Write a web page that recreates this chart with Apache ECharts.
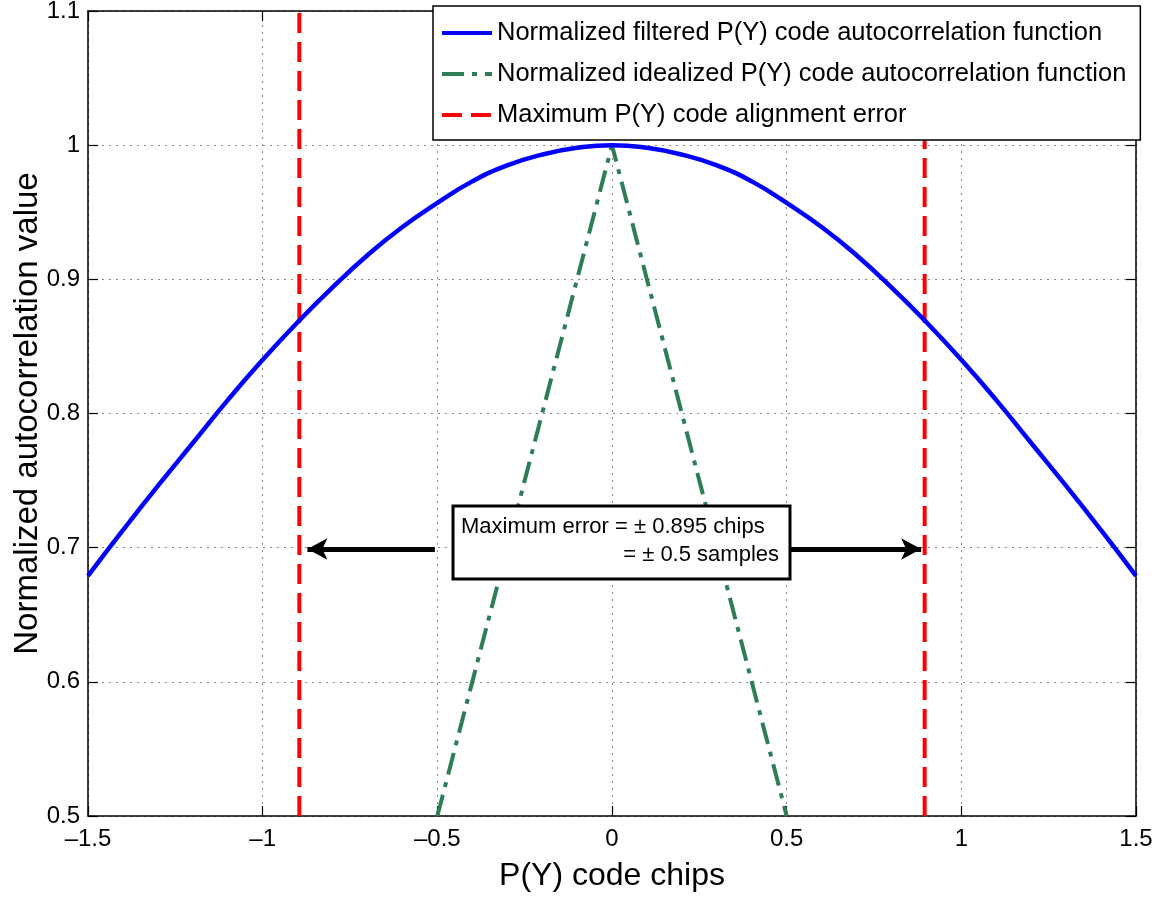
<!DOCTYPE html>
<html>
<head>
<meta charset="utf-8">
<script src="https://cdn.jsdelivr.net/npm/echarts@6/dist/echarts.min.js"></script>
<style>
  html, body { margin: 0; padding: 0; background: #fff; }
  #chart { width: 1171px; height: 913px; }
</style>
</head>
<body>
<div id="chart"></div>
<script>
// chip offsets and filtered autocorrelation
const chipOffsets = [-1.5, -1.4, -1.3, -1.2, -1.1, -1.0, -0.9, -0.8, -0.7, -0.6, -0.5, -0.4, -0.3, -0.2, -0.1, 0,
  0.1, 0.2, 0.3, 0.4, 0.5, 0.6, 0.7, 0.8, 0.9, 1.0, 1.1, 1.2, 1.3, 1.4, 1.5];
const filteredAcf = [0.679, 0.713, 0.746, 0.778, 0.810, 0.840, 0.868, 0.894, 0.918, 0.939, 0.957, 0.973, 0.985, 0.993, 0.998, 1.000,
  0.998, 0.993, 0.985, 0.973, 0.957, 0.939, 0.918, 0.894, 0.868, 0.840, 0.810, 0.778, 0.746, 0.713, 0.679];

// idealized (triangle) autocorrelation
const idealChips = [-0.5, 0, 0.5];
const idealAcf = [0.5, 1.0, 0.5];

// max alignment error lines
const errorChips = [-0.895, 0.895];
const errorSpan = [0.5, 1.1];

// arrows pointing at the error lines (start chip, end chip, level)
const arrowStarts = [-0.507, 0.51];
const arrowEnds = [-0.872, 0.885];
const arrowLevel = 0.699;

const FONT = '"Liberation Sans", Arial, Helvetica, sans-serif';
const names = [
  'Normalized filtered P(Y) code autocorrelation function',
  'Normalized idealized P(Y) code autocorrelation function',
  'Maximum P(Y) code alignment error'
];

var chart = echarts.init(document.getElementById('chart'));

const zip = (xs, ys) => xs.map((x, i) => [x, ys[i]]);

const gridLine = { show: true, lineStyle: { color: '#8a8a8a', type: [2, 5], width: 1 } };
const boxLine = { show: true, onZero: false, lineStyle: { color: '#000', width: 1.5 } };
const tick = { show: true, inside: true, length: 10, lineStyle: { color: '#000', width: 1.2 } };

var series = [
  {
    name: names[0],
    type: 'line',
    data: zip(chipOffsets, filteredAcf),
    smooth: 0.5,
    showSymbol: false,
    symbol: 'none',
    lineStyle: { color: '#0000ff', width: 4.5 },
    itemStyle: { color: '#0000ff' },
    z: 3,
    markLine: {
      silent: true,
      symbol: ['none', 'arrow'],
      symbolSize: [16, 20],
      label: { show: false },
      lineStyle: { color: '#000', width: 5, type: 'solid' },
      data: arrowStarts.map((s, i) => [
        { coord: [s, arrowLevel] },
        { coord: [arrowEnds[i], arrowLevel] }
      ])
    }
  },
  {
    name: names[1],
    type: 'line',
    data: zip(idealChips, idealAcf),
    showSymbol: false,
    symbol: 'none',
    lineStyle: { color: '#2e7d57', width: 4, type: [22, 8, 5, 8] },
    itemStyle: { color: '#2e7d57' },
    z: 2
  }
];

errorChips.forEach(function (c) {
  series.push({
    name: names[2],
    type: 'line',
    data: errorSpan.map(v => [c, v]),
    showSymbol: false,
    symbol: 'none',
    lineStyle: { color: '#ff0000', width: 4, type: [20, 9] },
    itemStyle: { color: '#ff0000' },
    z: 2
  });
});

chart.setOption({
  animation: false,
  backgroundColor: '#fff',
  textStyle: { fontFamily: FONT },
  grid: { left: 88, right: 35, top: 11, bottom: 97, containLabel: false, outerBoundsMode: 'none' },
  legend: {
    data: names,
    orient: 'vertical',
    left: 433,
    top: 6,
    padding: [13, 14, 11, 7],
    itemGap: 13,
    itemWidth: 50,
    itemHeight: 2,
    backgroundColor: '#fff',
    borderColor: '#000',
    borderWidth: 1.5,
    borderRadius: 0,
    itemStyle: { color: 'rgba(0,0,0,0)', borderWidth: 0 },
    lineStyle: { width: 4 },
    textStyle: { fontSize: 25.5, color: '#000', fontFamily: FONT, lineHeight: 28 },
    selectedMode: false,
    z: 10
  },
  xAxis: [
    {
      type: 'value',
      min: -1.5,
      max: 1.5,
      interval: 0.5,
      name: 'P(Y) code chips',
      nameLocation: 'middle',
      nameGap: 44,
      nameMoveOverlap: false,
      nameTextStyle: { fontSize: 32, color: '#000', fontFamily: FONT },
      axisLine: boxLine,
      axisTick: tick,
      axisLabel: {
        fontSize: 24, color: '#000', margin: 11,
        formatter: v => String(v).replace('-', '\u2013')
      },
      splitLine: gridLine
    },
    {
      type: 'value', position: 'top', min: -1.5, max: 1.5, interval: 0.5,
      axisLine: boxLine, axisTick: tick, axisLabel: { show: false }, splitLine: { show: false }
    }
  ],
  yAxis: [
    {
      type: 'value',
      min: 0.5,
      max: 1.1,
      interval: 0.1,
      name: 'Normalized autocorrelation value',
      nameLocation: 'middle',
      nameGap: 44,
      nameMoveOverlap: false,
      nameTextStyle: { fontSize: 33, color: '#000', fontFamily: FONT },
      axisLine: boxLine,
      axisTick: tick,
      axisLabel: { fontSize: 24, color: '#000', margin: 8 },
      splitLine: gridLine
    },
    {
      type: 'value', position: 'right', min: 0.5, max: 1.1, interval: 0.1,
      axisLine: boxLine, axisTick: tick, axisLabel: { show: false }, splitLine: { show: false }
    }
  ],
  graphic: [
    {
      type: 'rect',
      z: 100,
      shape: { x: 453, y: 506, width: 337, height: 73 },
      style: { fill: '#fff', stroke: '#000', lineWidth: 3 }
    },
    {
      type: 'text',
      z: 101,
      x: 461,
      y: 527,
      style: {
        text: 'Maximum error = \u00b1 0.895 chips',
        fontSize: 22, fontFamily: FONT, fill: '#000', align: 'left', verticalAlign: 'middle'
      }
    },
    {
      type: 'text',
      z: 101,
      x: 779,
      y: 555,
      style: {
        text: '= \u00b1 0.5 samples',
        fontSize: 22, fontFamily: FONT, fill: '#000', align: 'right', verticalAlign: 'middle'
      }
    }
  ],
  series: series
});
</script>
</body>
</html>
